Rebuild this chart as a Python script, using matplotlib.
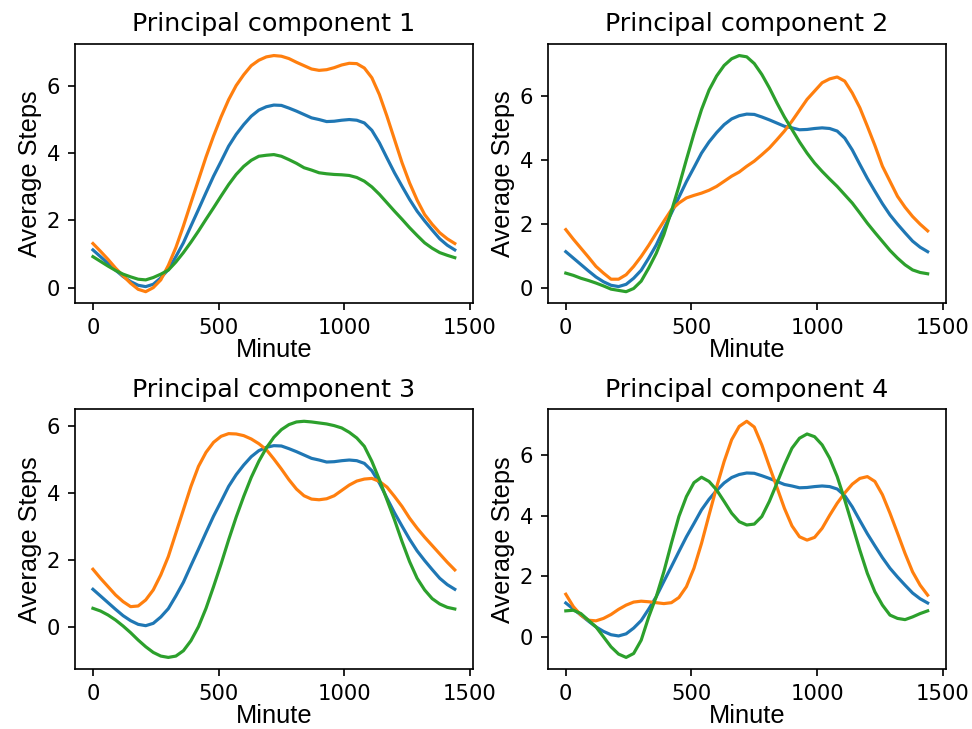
import numpy as np
import matplotlib.pyplot as plt

minute = list(range(0, 1441, 30))

mean_steps = [1.12, 0.92, 0.72, 0.52, 0.33, 0.18, 0.07, 0.03, 0.1, 0.29, 0.54, 0.92, 1.33,
              1.83, 2.32, 2.82, 3.31, 3.75, 4.2, 4.55, 4.84, 5.09, 5.27, 5.37, 5.42, 5.41,
              5.33, 5.24, 5.14, 5.04, 4.99, 4.93, 4.94, 4.97, 4.99, 4.97, 4.89, 4.67, 4.3,
              3.85, 3.41, 3.01, 2.62, 2.27, 1.98, 1.71, 1.45, 1.26, 1.12]

# mean +/- each principal component
pc1_a = [1.31, 1.08, 0.84, 0.58, 0.35, 0.13, -0.05, -0.12, 0.0, 0.23, 0.66, 1.19, 1.83,
         2.52, 3.2, 3.88, 4.5, 5.07, 5.58, 6.0, 6.32, 6.59, 6.75, 6.85, 6.89, 6.87,
         6.8, 6.69, 6.59, 6.49, 6.45, 6.47, 6.53, 6.61, 6.66, 6.65, 6.52, 6.23, 5.73,
         5.09, 4.4, 3.71, 3.11, 2.6, 2.17, 1.88, 1.63, 1.45, 1.31]
pc1_b = [0.92, 0.78, 0.64, 0.51, 0.4, 0.32, 0.25, 0.23, 0.3, 0.4, 0.52, 0.76, 1.04,
         1.35, 1.68, 2.03, 2.37, 2.72, 3.06, 3.36, 3.6, 3.78, 3.9, 3.93, 3.95, 3.9,
         3.8, 3.69, 3.56, 3.49, 3.41, 3.38, 3.36, 3.35, 3.33, 3.27, 3.16, 2.99, 2.77,
         2.52, 2.27, 2.03, 1.78, 1.55, 1.33, 1.17, 1.04, 0.96, 0.89]

pc2_a = [1.81, 1.51, 1.23, 0.95, 0.66, 0.45, 0.26, 0.26, 0.4, 0.66, 0.97, 1.32, 1.7,
         2.07, 2.43, 2.64, 2.8, 2.88, 2.95, 3.04, 3.16, 3.32, 3.48, 3.61, 3.79, 3.95,
         4.15, 4.36, 4.62, 4.89, 5.2, 5.54, 5.88, 6.14, 6.4, 6.52, 6.58, 6.45, 6.08,
         5.62, 5.04, 4.44, 3.79, 3.32, 2.85, 2.51, 2.22, 1.98, 1.77]
pc2_b = [0.45, 0.38, 0.29, 0.22, 0.14, 0.05, -0.05, -0.09, -0.13, -0.03, 0.2, 0.61, 1.07,
         1.65, 2.38, 3.16, 4.0, 4.81, 5.56, 6.17, 6.61, 6.94, 7.15, 7.25, 7.21, 7.0,
         6.66, 6.24, 5.77, 5.33, 4.94, 4.55, 4.2, 3.89, 3.63, 3.39, 3.16, 2.9, 2.64,
         2.33, 2.01, 1.72, 1.44, 1.16, 0.92, 0.71, 0.55, 0.47, 0.43]

pc3_a = [1.72, 1.45, 1.2, 0.95, 0.75, 0.6, 0.62, 0.8, 1.1, 1.55, 2.1, 2.8, 3.5,
         4.2, 4.8, 5.22, 5.52, 5.7, 5.78, 5.77, 5.72, 5.62, 5.48, 5.3, 5.02, 4.72,
         4.4, 4.12, 3.92, 3.82, 3.8, 3.83, 3.92, 4.08, 4.24, 4.36, 4.42, 4.44, 4.35,
         4.18, 3.9, 3.6, 3.25, 2.95, 2.68, 2.43, 2.18, 1.93, 1.7]
pc3_b = [0.55, 0.47, 0.35, 0.2, 0.02, -0.18, -0.4, -0.6, -0.77, -0.88, -0.92, -0.88, -0.72,
         -0.42, 0.0, 0.55, 1.2, 1.88, 2.6, 3.28, 3.9, 4.47, 4.95, 5.35, 5.67, 5.9,
         6.05, 6.13, 6.15, 6.13, 6.1, 6.07, 6.02, 5.95, 5.82, 5.65, 5.4, 4.95, 4.4,
         3.8, 3.2, 2.55, 1.95, 1.45, 1.1, 0.84, 0.68, 0.58, 0.53]

pc4_a = [1.41, 1.0, 0.72, 0.55, 0.53, 0.61, 0.74, 0.91, 1.05, 1.15, 1.18, 1.16, 1.13,
         1.1, 1.13, 1.3, 1.66, 2.27, 3.09, 4.03, 4.95, 5.8, 6.52, 6.96, 7.13, 6.94,
         6.35, 5.64, 4.95, 4.25, 3.67, 3.31, 3.2, 3.29, 3.59, 4.02, 4.42, 4.76, 5.05,
         5.24, 5.3, 5.14, 4.7, 4.09, 3.43, 2.76, 2.15, 1.71, 1.38]
pc4_b = [0.86, 0.88, 0.77, 0.55, 0.33, 0.0, -0.33, -0.57, -0.68, -0.55, -0.11, 0.66, 1.33,
         2.15, 3.09, 3.98, 4.64, 5.1, 5.28, 5.14, 4.86, 4.48, 4.09, 3.81, 3.7, 3.73,
         3.98, 4.48, 5.08, 5.69, 6.24, 6.57, 6.71, 6.62, 6.35, 5.91, 5.3, 4.53, 3.7,
         2.87, 2.1, 1.49, 1.05, 0.72, 0.61, 0.57, 0.66, 0.77, 0.86]

pcs = [(pc1_a, pc1_b), (pc2_a, pc2_b), (pc3_a, pc3_b), (pc4_a, pc4_b)]

fig, axes = plt.subplots(2, 2, figsize=(6.4, 4.8), dpi=151.875)
for i, ax in enumerate(axes.flat):
    a, b = pcs[i]
    ax.plot(minute, mean_steps)
    ax.plot(minute, a)
    ax.plot(minute, b)
    ax.set_title('Principal component %d' % (i + 1))
    ax.set_xlabel('Minute', family='Liberation Sans', fontsize=12, labelpad=0)
    ax.set_ylabel('Average Steps', family='Liberation Sans', fontsize=12, labelpad=2)
    ax.set_xticks([0, 500, 1000, 1500])

plt.subplots_adjust(left=0.077, right=0.973, bottom=0.082, top=0.94,
                    wspace=0.188, hspace=0.408)
plt.savefig('out.png', dpi=151.875)
